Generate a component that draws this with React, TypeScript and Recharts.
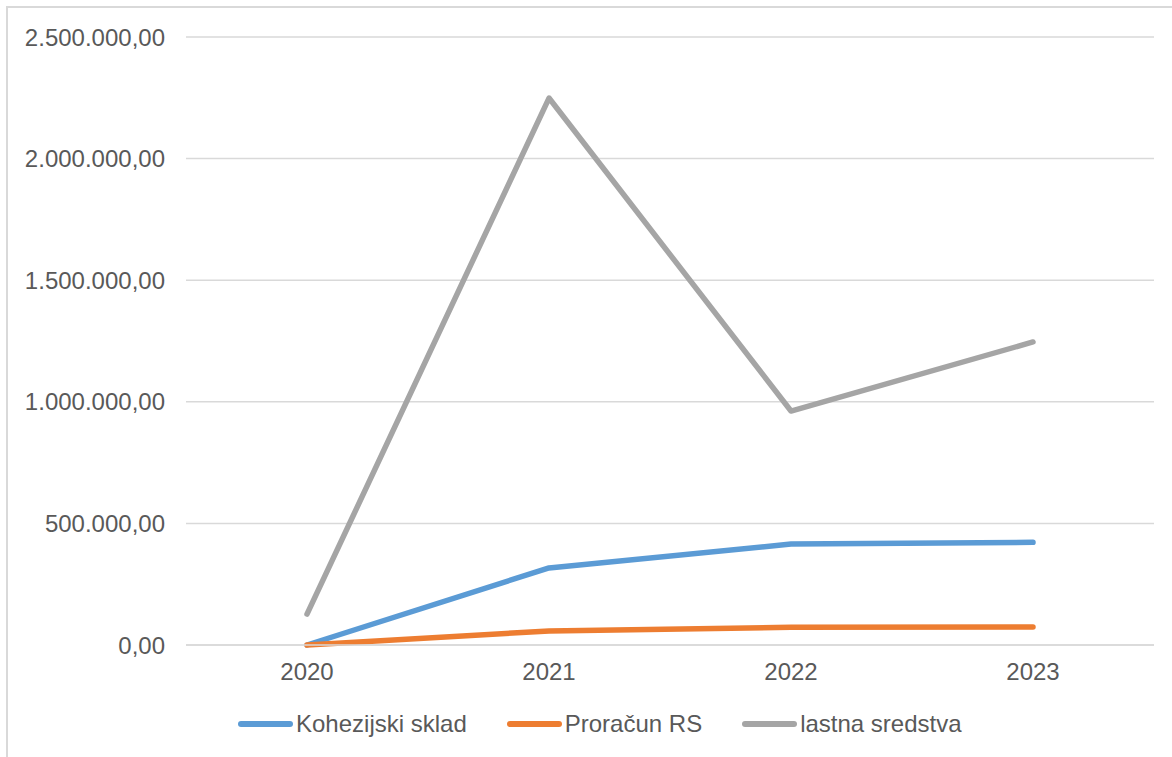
import { LineChart, Line, XAxis, YAxis, CartesianGrid, Legend } from "recharts";

const years = ["2020", "2021", "2022", "2023"];
const kohezijski = [0, 317000, 415000, 422000];
const proracun = [0, 58000, 73000, 74000];
const lastna = [127000, 2249000, 962000, 1246000];
const yTicks = [0, 500000, 1000000, 1500000, 2000000, 2500000];

const series = [
  { key: "kohezijski", name: "Kohezijski sklad", color: "#5B9BD5" },
  { key: "proracun", name: "Proračun RS", color: "#ED7D31" },
  { key: "lastna", name: "lastna sredstva", color: "#A5A5A5" },
];

const data = years.map((year, i) => ({
  year,
  kohezijski: kohezijski[i],
  proracun: proracun[i],
  lastna: lastna[i],
}));

const font = "'Liberation Sans', Arial, sans-serif";
const textColor = "#595959";

function formatNumber(v: number) {
  const s = Math.round(v).toString().replace(/\B(?=(\d{3})+(?!\d))/g, ".");
  return s + ",00";
}

function LegendContent() {
  return (
    <div style={{ display: "flex", alignItems: "center", marginLeft: 238, fontFamily: font, fontSize: 24, color: textColor }}>
      {series.map((s) => (
        <div key={s.key} style={{ display: "flex", alignItems: "center", marginRight: 40 }}>
          <div style={{ width: 55, height: 5.5, borderRadius: 3, background: s.color, marginRight: 3 }} />
          <span>{s.name}</span>
        </div>
      ))}
    </div>
  );
}

export default function App() {
  return (
    <div style={{ position: "absolute", left: 0, top: 0, width: 1172, height: 757, overflow: "hidden", background: "#fff" }}>
      <div style={{ position: "absolute", left: 6, top: 6, width: 1200, height: 800, border: "2px solid #d9d9d9" }} />
      <div style={{ position: "absolute", left: 0, top: 0 }}>
        <LineChart width={1172} height={757} data={data} margin={{ top: 37, right: 18, bottom: 82, left: 0 }}>
          <CartesianGrid vertical={false} stroke="#d9d9d9" strokeWidth={1.5} />
          <XAxis
            dataKey="year"
            scale="band"
            tickLine={false}
            tickSize={0}
            tickMargin={18}
            axisLine={{ stroke: "#d9d9d9", strokeWidth: 1.5 }}
            tick={{ fill: textColor, fontSize: 24, fontFamily: font }}
          />
          <YAxis
            width={186}
            domain={[0, 2500000]}
            ticks={yTicks}
            tickFormatter={formatNumber}
            axisLine={false}
            tickLine={false}
            tickSize={0}
            tickMargin={21}
            tick={{ fill: textColor, fontSize: 24, fontFamily: font }}
          />
          <Legend
            verticalAlign="middle"
            align="center"
            layout="horizontal"
            content={<LegendContent />}
            wrapperStyle={{ position: "absolute", top: 710, left: 0, width: 1172 }}
          />
          {series.map((s) => (
            <Line
              key={s.key}
              type="linear"
              dataKey={s.key}
              name={s.name}
              stroke={s.color}
              strokeWidth={5.5}
              strokeLinecap="round"
              strokeLinejoin="round"
              dot={false}
              activeDot={false}
              isAnimationActive={false}
            />
          ))}
        </LineChart>
      </div>
    </div>
  );
}
